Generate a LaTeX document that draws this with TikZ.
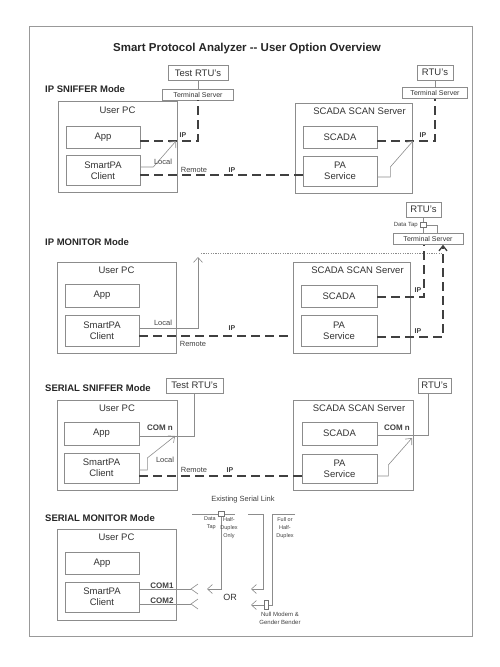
\documentclass[tikz,border=0pt]{standalone}
\usepackage{fontspec}
\setmainfont{Liberation Sans}
\usetikzlibrary{positioning,arrows,arrows.meta}

\begin{document}
\begin{tikzpicture}[x=1pt,y=-1pt,
  box/.style={draw=black!45,line width=0.6pt,inner sep=0pt,align=center,text=black!80,font=\fontsize{9.5}{11}\selectfont},
  outer/.style={box,minimum width=119pt,minimum height=91pt},
  inbox/.style={box,minimum width=74pt,minimum height=22pt},
  twoline/.style={inbox,minimum height=30pt},
  rtu/.style={box,minimum height=15pt},
  term/.style={box,minimum height=11pt,font=\fontsize{7}{8}\selectfont},
  tapbox/.style={draw=black!55,fill=white,line width=0.5pt,inner sep=0pt,minimum width=6pt,minimum height=5pt},
  head/.style={anchor=north,yshift=-4pt,inner sep=1pt,text=black!80,font=\fontsize{9.5}{11}\selectfont},
  mode/.style={anchor=west,inner sep=0pt,text=black!85,font=\bfseries\fontsize{9.5}{11}\selectfont},
  tag/.style={inner sep=0.5pt,text=black!75,font=\fontsize{7.5}{8}\selectfont},
  btag/.style={tag,font=\bfseries\fontsize{7}{8}\selectfont},
  ctag/.style={tag,font=\bfseries\fontsize{8}{9}\selectfont},
  tiny/.style={inner sep=0pt,align=center,text=black!75,font=\fontsize{5.5}{8}\selectfont},
  link/.style={draw=black!75,line width=1.3pt,dash pattern=on 9pt off 5pt},
  wire/.style={draw=black!45,line width=0.6pt},
  watch/.style={draw=black!45,line width=0.7pt,dash pattern=on 1.2pt off 1.2pt},
  >={Straight Barb[length=5pt,width=9pt]}
]
\useasboundingbox (0,0) rectangle (500,667);
\draw[black!40,line width=0.6pt] (29,26) rectangle (472,636);
\node[font=\bfseries\fontsize{11.5}{13}\selectfont,text=black!85] (title) at (247,49) {Smart Protocol Analyzer -{}- User Option Overview};

% IP SNIFFER
\node[mode] (m1) at (45,89) {IP SNIFFER Mode};
\node[rtu,minimum width=60pt] (trtu1) at (198,73) {Test RTU's};
\node[term,minimum width=71pt] (ts1) [below=8pt of trtu1] {Terminal Server};
\node[rtu,minimum width=36pt] (rtu1) at (435,72.5) {RTU's};
\node[term,minimum width=65pt] (ts2) [below=7pt of rtu1] {Terminal Server};
\node[outer,label={[head]north:User PC}] (pc1) at (117.5,147) {};
\node[inbox] (app1) at (103,137) {App};
\node[twoline] (spa1) at (103,170.5) {SmartPA\\Client};
\node[outer,minimum width=117pt,minimum height=90pt,label={[head,xshift=6pt]north:SCADA SCAN Server}] (srv1) at (353.5,148) {};
\node[inbox] (scada1) at (340,137) {SCADA};
\node[twoline] (pas1) at (340,171) {PA\\Service};
\coordinate (lt1) at (176,141);
\coordinate (lt2) at (413,141);
\draw[wire] (trtu1) -- (ts1);
\draw[wire] (rtu1) -- (ts2);
\draw[link] ([yshift=-4pt]app1.east) -| (ts1.south);
\draw[wire,->] ([yshift=3.5pt]spa1.east) -- ++(13,0) -- (lt1);
\draw[link] ([yshift=-4.5pt]spa1.east) -- ([yshift=-4.5pt]spa1.east -| pas1.west);
\draw[link] ([yshift=-4pt]scada1.east) -| (ts2.south);
\draw[wire,->] ([yshift=-6pt]pas1.east) -- ++(13,0) -- ++(0,-10) -- (lt2);
\node[btag] (ip1a) at (183,135) {IP};
\node[tag] (loc1) at (163,162) {Local};
\node[tag] (rem1) at (194,170) {Remote};
\node[btag] (ip1b) at (232,170) {IP};
\node[btag] (ip1c) at (423,135) {IP};

% IP MONITOR
\node[mode] (m2) at (45,242) {IP MONITOR Mode};
\node[rtu,minimum width=35pt] (rtu2) at (423.5,209.5) {RTU's};
\node[tapbox] (tap2) at (423.5,225) {};
\node[tiny,anchor=east,font=\fontsize{6}{7}\selectfont] (dt2) at (418,225) {Data Tap};
\node[term,minimum width=70pt] (ts3) at (428,239) {Terminal Server};
\node[outer] (pc2) [label={[head]north:User PC}] at (116.5,307.5) {};
\node[inbox,minimum height=23pt] (app2) at (102,295.5) {App};
\node[twoline,minimum height=31pt] (spa2) at (102,330.5) {SmartPA\\Client};
\node[outer,minimum width=117pt,label={[head,xshift=6pt]north:SCADA SCAN Server}] (srv2) at (351.5,307.5) {};
\node[inbox,minimum width=76pt] (scada2) at (339,296) {SCADA};
\node[twoline,minimum width=76pt,minimum height=31pt] (pas2) at (339,330.5) {PA\\Service};
\coordinate (up2) at (198,257);
\coordinate (dot2a) at (201,253);
\coordinate (dot2b) at (443,253);
\draw[wire] (rtu2) -- (tap2);
\draw[wire] (tap2) -- (tap2 |- ts3.north);
\draw[wire] (tap2.east) -| ([xshift=9pt]ts3.north);
\draw[wire,->] ([yshift=2.5pt]spa2.east) -| (up2);
\draw[watch] (dot2a) -- (dot2b);
\draw[link] ([yshift=-5.5pt]spa2.east) -- ([yshift=-5.5pt]spa2.east -| srv2.west);
\draw[link] ([yshift=-1pt]scada2.east) -| ([xshift=-4pt]ts3.south);
\draw[link,-{Straight Barb[length=5pt,width=8pt]}] ([yshift=-6.5pt]pas2.east) -| ([xshift=15pt]ts3.south);
\node[tag] (loc2) at (163,323) {Local};
\node[tag] (rem2) at (193,344) {Remote};
\node[btag] (ip2a) at (232,328) {IP};
\node[btag] (ip2b) at (418,290) {IP};
\node[btag] (ip2c) at (418,331) {IP};

% SERIAL SNIFFER
\node[mode] (m3) at (45,388) {SERIAL SNIFFER Mode};
\node[rtu,minimum width=57pt] (trtu3) at (194.5,385.5) {Test RTU's};
\node[rtu,minimum width=33pt] (rtu3) at (434.5,385.5) {RTU's};
\node[outer,minimum width=120pt,minimum height=90pt,label={[head]north:User PC}] (pc3) at (117,445) {};
\node[inbox,minimum width=75pt,minimum height=23pt] (app3) at (101.5,433.5) {App};
\node[twoline,minimum width=75pt] (spa3) at (101.5,468) {SmartPA\\Client};
\node[outer,minimum width=120pt,minimum height=90pt,label={[head,xshift=6pt]north:SCADA SCAN Server}] (srv3) at (353,445) {};
\node[inbox,minimum width=75pt,minimum height=23pt] (scada3) at (339.5,433.5) {SCADA};
\node[twoline,minimum width=75pt,minimum height=29pt] (pas3) at (339.5,468.5) {PA\\Service};
\coordinate (lt3) at (175,436);
\coordinate (lt4) at (412,438);
\draw[wire] ([yshift=-2.5pt]app3.east) -| (trtu3.south);
\draw[wire,->] ([yshift=-2pt]spa3.east) -- ++(8,0) -- ++(0,-12) -- (lt3);
\draw[link] ([yshift=-8pt]spa3.east) -- ([yshift=-8pt]spa3.east -| pas3.west);
\draw[wire] ([yshift=-1.5pt]scada3.east) -| ([xshift=-6pt]rtu3.south);
\draw[wire,->] ([yshift=-7.5pt]pas3.east) -- ++(11,0) -- ++(0,-11) -- (lt4);
\node[ctag] (com3a) at (160,428) {COM n};
\node[tag] (loc3) at (165,460) {Local};
\node[tag] (rem3) at (194,470) {Remote};
\node[btag] (ip3) at (230,470) {IP};
\node[ctag] (com3b) at (397,428) {COM n};
\node[tag] (esl) at (243,500) {Existing Serial Link};

% SERIAL MONITOR
\node[mode] (m4) at (45,518) {SERIAL MONITOR Mode};
\node[outer] (pc4) [label={[head]north:User PC}] at (116.5,574.5) {};
\node[inbox] (app4) at (102,563) {App};
\node[twoline] (spa4) at (102,597) {SmartPA\\Client};
\coordinate (sk1) at (191,589);
\coordinate (sk2) at (191,604);
\coordinate (lk1) at (192,514);
\coordinate (lk2) at (235,514);
\coordinate (lk3) at (248,514);
\coordinate (lk4) at (263,589);
\coordinate (lk5) at (295,514);
\coordinate (lk6) at (272,605);
\coordinate (ar1) at (207,589);
\coordinate (ar2) at (251,589);
\coordinate (ar3) at (251,605);
\draw[wire] ([yshift=8pt]spa4.east) -- (sk1);
\draw[wire] ([yshift=-7pt]spa4.east) -- (sk2);
\draw[wire] (sk1) ++(7,-5) -- (sk1) -- ++(7,5);
\draw[wire] (sk2) ++(7,-5) -- (sk2) -- ++(7,5);
\draw[wire] (lk1) -- (lk2);
\node[tapbox] (tap4) at (221,514) {};
\draw[wire,->] (tap4.south) |- (ar1);
\draw[wire,->] (lk3) -| (lk4) -- (ar2);
\node[tapbox,minimum width=4pt,minimum height=9pt] (nm4) at (266.5,605) {};
\draw[wire] (lk5) -| (lk6) -- (nm4.east);
\draw[wire,->] (nm4.west) -- (ar3);
\node[ctag] (com1) at (162,586) {COM1};
\node[ctag] (com2) at (162,601) {COM2};
\node[tiny,anchor=north east,align=right] (dtap4) at (216,517) {Data\\Tap};
\node[tiny,anchor=north] (hd4) at (229,517) {Half-\\Duplex\\Only};
\node[tiny,anchor=north] (fd4) at (285,517) {Full or\\Half-\\Duplex};
\node[tiny,anchor=north,font=\fontsize{6}{8}\selectfont] (nmt4) at (280,612) {Null Modem \&\\Gender Bender};
\node[inner sep=0pt,text=black!80,font=\fontsize{9}{10}\selectfont] (or4) at (230,597) {OR};
\end{tikzpicture}
\end{document}
